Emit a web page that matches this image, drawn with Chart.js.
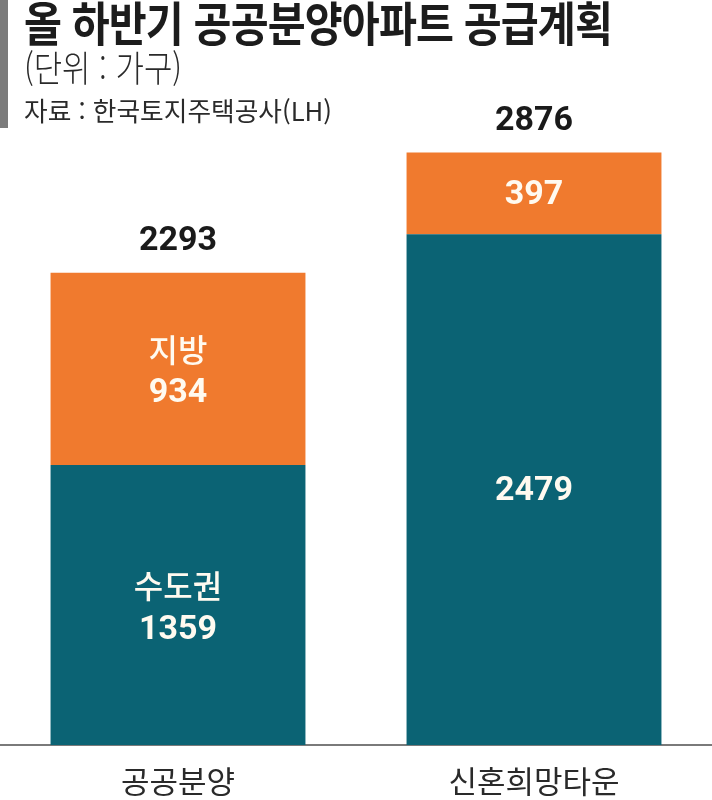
<!DOCTYPE html>
<html lang="ko">
<head>
<meta charset="utf-8">
<script src="https://cdn.jsdelivr.net/npm/chart.js@4.4.1/dist/chart.umd.min.js"></script>
<style>
  html, body { margin: 0; padding: 0; background: #fff; }
  #wrap { position: relative; width: 712px; height: 800px; overflow: hidden; }
  #strip { position: absolute; left: 0; top: 0; width: 8px; height: 128px; background: #7b7b7b; }
  .txt { position: absolute; left: 24px; white-space: nowrap; transform-origin: left center; font-family: "Noto Sans CJK KR", sans-serif; color: #1c1c1c; }
  #title { top: -14px; font-size: 47px; font-weight: 700; letter-spacing: -1px; }
  #unit { top: 40px; font-size: 36px; font-weight: 300; color: #2a2a2a; }
  #source { top: 91px; font-size: 26px; font-weight: 400; color: #2a2a2a; }
  canvas { position: absolute; left: 0; top: 0; }
</style>
</head>
<body>
<div id="wrap">
  <canvas id="c" width="712" height="800"></canvas>
  <div id="strip"></div>
  <div class="txt" id="title">올 하반기 공공분양아파트 공급계획</div>
  <div class="txt" id="unit">(단위 : 가구)</div>
  <div class="txt" id="source">자료 : 한국토지주택공사(LH)</div>
</div>
<script>
// ---- data ----
const categories = ["공공분양", "신혼희망타운"];
const seriesNames = ["수도권", "지방"];
const capitalValues = [1359, 2479];   // 수도권 (teal)
const localValues = [934, 397];       // 지방 (orange)
const totals = [2293, 2876];
const regionLabelShownFor = [true, false];

// fit header texts to the reference widths (condensed look)
function fitWidth(id, target) {
  const el = document.getElementById(id);
  const w = el.getBoundingClientRect().width;
  el.style.transform = "scaleX(" + (target / w) + ")";
}
fitWidth("title", 588);
fitWidth("unit", 158);
fitWidth("source", 308);

const TEAL = "#0b6374";
const ORANGE = "#f07a2e";

const labelPlugin = {
  id: "segLabels",
  afterDatasetsDraw(chart) {
    const ctx = chart.ctx;
    ctx.save();
    ctx.textAlign = "center";
    ctx.textBaseline = "middle";
    const metaC = chart.getDatasetMeta(0);
    const metaL = chart.getDatasetMeta(1);
    categories.forEach((cat, i) => {
      [metaC, metaL].forEach((meta, d) => {
        const el = meta.data[i];
        const cx = el.x;
        const cy = (el.y + el.base) / 2;
        const val = chart.data.datasets[d].data[i];
        ctx.fillStyle = "#fffaf0";
        if (regionLabelShownFor[i]) {
          ctx.font = '500 32px "Noto Sans CJK KR"';
          ctx.fillText(seriesNames[d], cx, cy - 19);
          ctx.font = 'bold 34px Roboto';
          ctx.fillText(String(val), cx, cy + 25);
        } else {
          ctx.font = 'bold 34px Roboto';
          ctx.fillText(String(val), cx, cy + 2);
        }
      });
      const top = metaL.data[i];
      ctx.fillStyle = "#1a1a1a";
      ctx.font = 'bold 34px Roboto';
      ctx.fillText(String(totals[i]), top.x, top.y - 31);
    });
    ctx.restore();
  }
};

new Chart(document.getElementById("c"), {
  type: "bar",
  data: {
    labels: categories,
    datasets: [
      { label: seriesNames[0], data: capitalValues, backgroundColor: TEAL, borderWidth: 0 },
      { label: seriesNames[1], data: localValues, backgroundColor: ORANGE, borderWidth: 0 }
    ]
  },
  options: {
    responsive: false,
    animation: false,
    layout: { padding: { top: 127, left: 0, right: 0, bottom: 0 } },
    plugins: { legend: { display: false }, tooltip: { enabled: false } },
    datasets: { bar: { categoryPercentage: 1, barPercentage: 0.716 } },
    scales: {
      x: {
        stacked: true,
        grid: { display: false, drawTicks: false },
        border: { display: true, color: "#7a7a7a", width: 2 },
        ticks: { color: "#2a2a2a", padding: 18, font: { family: '"Noto Sans CJK KR"', size: 31 } },
        afterFit(scale) { scale.height = 55; }
      },
      y: {
        stacked: true,
        display: false,
        min: 0,
        max: 3000
      }
    }
  },
  plugins: [labelPlugin]
});
</script>
</body>
</html>
